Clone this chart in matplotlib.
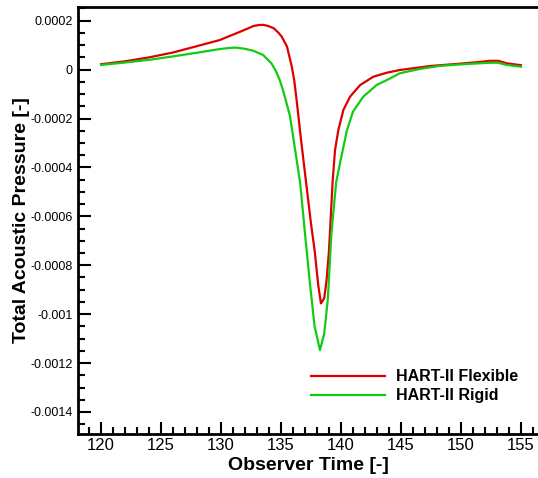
import numpy as np
import matplotlib
matplotlib.use("Agg")
from matplotlib import pyplot as plt
from matplotlib.ticker import MultipleLocator, FuncFormatter

# observer time / pressure
t_flex = [120.0, 122.0, 124.0, 126.0, 128.0, 129.9, 131.6, 132.7, 133.1, 133.5,
          133.9, 134.4, 134.8, 135.06, 135.5, 135.9, 136.1, 136.3, 136.7, 137.1,
          137.5, 137.8, 138.1, 138.33, 138.6, 138.8, 139.0, 139.15, 139.3, 139.5,
          139.78, 140.2, 140.75, 141.6, 142.7, 143.8, 144.9, 147.5, 149.6, 151.5,
          152.4, 153.1, 153.8, 155.0]
p_flex = [2.2e-5, 3.4e-5, 5.0e-5, 7.0e-5, 9.6e-5, 1.21e-4, 1.55e-4, 1.78e-4, 1.82e-4, 1.83e-4,
          1.79e-4, 1.69e-4, 1.5e-4, 1.35e-4, 9.4e-5, 1.2e-5, -4.3e-5, -1.24e-4, -3.0e-4, -4.65e-4,
          -6.3e-4, -7.38e-4, -8.8e-4, -9.56e-4, -9.35e-4, -8.6e-4, -7.4e-4, -6.0e-4, -4.6e-4, -3.3e-4,
          -2.47e-4, -1.65e-4, -1.11e-4, -6.3e-5, -2.9e-5, -1.3e-5, -1.6e-6, 1.5e-5, 2.3e-5, 3.1e-5,
          3.6e-5, 3.6e-5, 2.6e-5, 1.8e-5]

t_rigid = [120.0, 122.0, 124.0, 126.0, 128.0, 129.9, 130.6, 131.2, 131.9, 132.7,
           133.5, 134.2, 134.6, 134.9, 135.2, 135.75, 136.6, 137.0, 137.4, 137.8,
           138.25, 138.6, 138.9, 139.2, 139.6, 139.97, 140.5, 141.0, 141.85, 142.97,
           144.1, 144.9, 146.5, 148.2, 150.5, 152.4, 153.1, 153.8, 155.0]
p_rigid = [1.9e-5, 2.9e-5, 4.0e-5, 5.4e-5, 6.9e-5, 8.4e-5, 8.8e-5, 9.0e-5, 8.6e-5, 7.7e-5,
           6.0e-5, 2.6e-5, -8.6e-6, -4.3e-5, -9.0e-5, -1.9e-4, -4.65e-4, -6.7e-4, -8.7e-4, -1.05e-3,
           -1.147e-3, -1.08e-3, -9.4e-4, -6.7e-4, -4.6e-4, -3.7e-4, -2.47e-4, -1.72e-4, -1.11e-4, -6.3e-5,
           -3.6e-5, -1.5e-5, 2e-6, 1.5e-5, 2.3e-5, 2.8e-5, 2.8e-5, 1.9e-5, 1.2e-5]

plt.rcParams['font.family'] = ['Liberation Sans', 'DejaVu Sans']

fig = plt.figure(figsize=(5.38, 4.78), dpi=100)
ax = fig.add_axes([78/538, 44/478, 460/538, 427/478])

ax.plot(t_flex, p_flex, color='#dd0000', lw=1.6, label='HART-II Flexible')
ax.plot(t_rigid, p_rigid, color='#11cc11', lw=1.6, label='HART-II Rigid')

ax.set_xlim(118.08, 156.42)
ax.set_ylim(-0.00149, 0.000256)

ax.xaxis.set_major_locator(MultipleLocator(5))
ax.xaxis.set_minor_locator(MultipleLocator(1))
ax.yaxis.set_major_locator(MultipleLocator(0.0002))
ax.yaxis.set_minor_locator(MultipleLocator(0.00005))

def yfmt(v, pos):
    if abs(v) < 1e-12:
        return '0'
    return ('%.4f' % v).rstrip('0')
ax.yaxis.set_major_formatter(FuncFormatter(yfmt))

ax.tick_params(which='both', direction='in', top=False, right=False, width=1.5)
ax.tick_params(which='major', length=9)
ax.tick_params(which='minor', length=5)
ax.tick_params(axis='y', labelsize=9, pad=4)
ax.tick_params(axis='x', labelsize=12, pad=3)

ax.spines['right'].set_visible(False)
for s in ['left', 'bottom', 'top']:
    ax.spines[s].set_linewidth(2)

ax.set_xlabel('Observer Time [-]', fontsize=14, fontweight='bold', labelpad=3)
ax.set_ylabel('Total Acoustic Pressure [-]', fontsize=14, fontweight='bold', labelpad=0)

ax.legend(loc='upper left', bbox_to_anchor=(297/538, 1 - 355/478),
          bbox_transform=fig.transFigure, frameon=False,
          prop={'size': 11.5, 'weight': 'bold'}, handlelength=4.6,
          handletextpad=0.7, labelspacing=0.25)

fig.savefig('out.png', dpi=100)
